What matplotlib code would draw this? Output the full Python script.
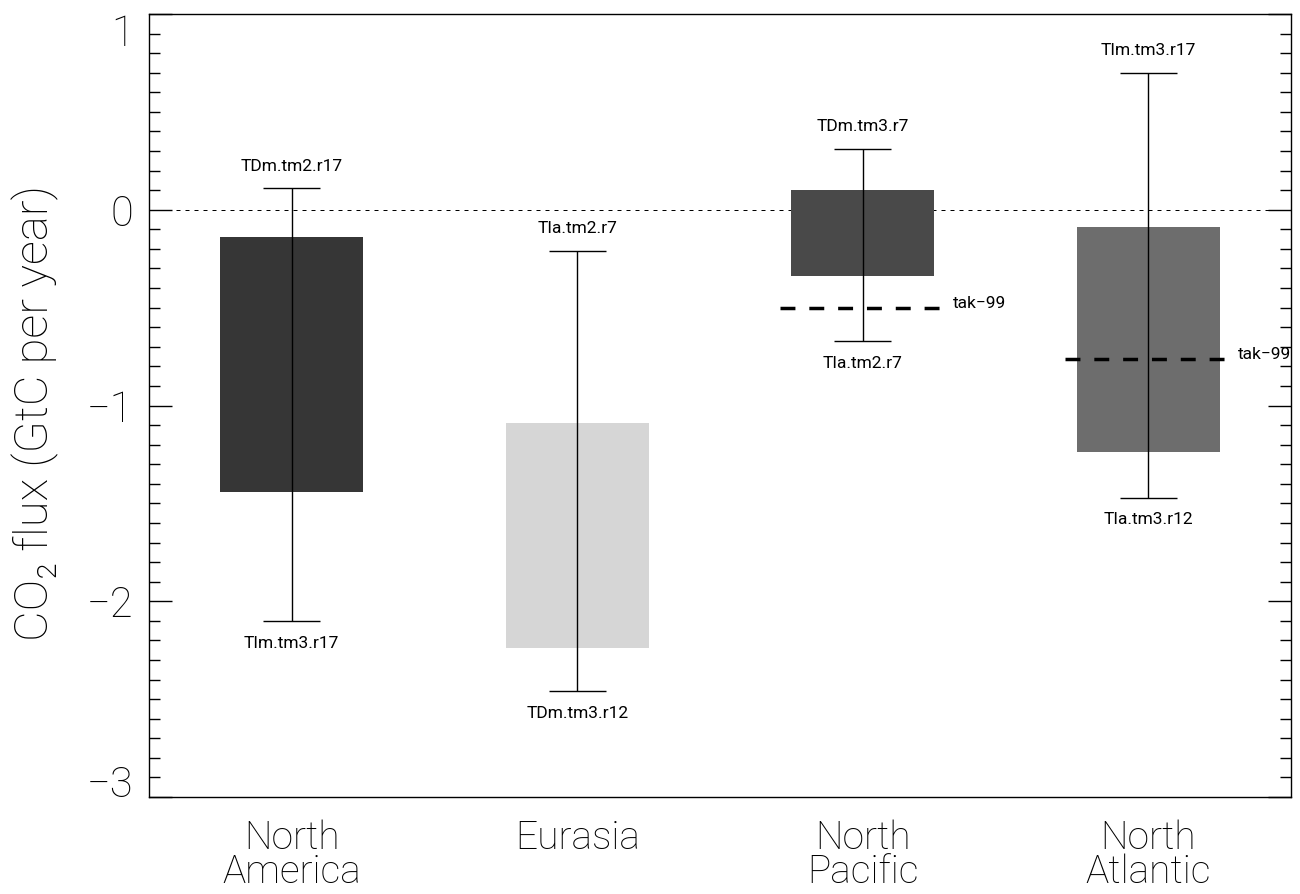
import matplotlib.pyplot as plt
import numpy as np
from matplotlib.ticker import MultipleLocator

# === data ===
regions = ['North\nAmerica', 'Eurasia', 'North\nPacific', 'North\nAtlantic']
bar_top = [-0.14, -1.09, 0.10, -0.09]
bar_bottom = [-1.44, -2.24, -0.34, -1.24]
err_top = [0.11, -0.21, 0.31, 0.70]
err_bottom = [-2.10, -2.46, -0.67, -1.47]
top_names = ['TDm.tm2.r17', 'TIa.tm2.r7', 'TDm.tm3.r7', 'TIm.tm3.r17']
bottom_names = ['TIm.tm3.r17', 'TDm.tm3.r12', 'TIa.tm2.r7', 'TIa.tm3.r12']
bar_colors = ['#363636', '#d6d6d6', '#494949', '#6d6d6d']
tak_regions = [2, 3]
tak_values = [-0.50, -0.76]
yticks = [-3, -2, -1, 0, 1]

plt.rcParams['font.family'] = ['Roboto', 'DejaVu Sans']

fig = plt.figure(figsize=(13, 8.94), dpi=100)
ax = fig.add_axes([0.1146, 0.1085, 0.8785, 0.8758])

x = np.arange(len(regions))
bottoms = np.array(bar_bottom)
heights = np.array(bar_top) - bottoms
ax.bar(x, heights, bottom=bottoms, width=0.5, color=bar_colors, zorder=1)

# zero line
ax.axhline(0, color='black', lw=0.72, dashes=(4, 5), zorder=0)

# min/max range bars
ax.vlines(x, err_bottom, err_top, color='black', lw=1, zorder=3)
ax.hlines(err_top, x - 0.1, x + 0.1, color='black', lw=1, zorder=3)
ax.hlines(err_bottom, x - 0.1, x + 0.1, color='black', lw=1, zorder=3)

small = dict(fontsize=12.5, color='black')
for i in range(len(regions)):
    ax.annotate(top_names[i], (x[i], err_top[i]), xytext=(0, 16), textcoords='offset points',
                ha='center', va='center', **small)
    ax.annotate(bottom_names[i], (x[i], err_bottom[i]), xytext=(0, -16), textcoords='offset points',
                ha='center', va='center', **small)

# tak-99 estimates
for r, v in zip(tak_regions, tak_values):
    ax.plot([r - 0.29, r + 0.29], [v, v], color='black', lw=2.5, dashes=(4.3, 4), solid_capstyle='butt',
            dash_capstyle='butt', zorder=4)
    ax.annotate('tak\u221299', (r + 0.29, v), xytext=(5, 3), textcoords='offset points',
                ha='left', va='center', annotation_clip=False, **small)

ax.set_xlim(-0.5, 3.5)
ax.set_ylim(-3, 1)
ax.set_xticks(x)
ax.set_xticklabels(regions, fontsize=28, linespacing=0.9, fontweight='light')
ax.tick_params(axis='x', length=0, pad=16)

ax.set_yticks(yticks)
ax.set_yticklabels([f'{t:d}'.replace('-', '\u2212') for t in yticks], fontsize=30, fontweight='light')
ax.yaxis.set_minor_locator(MultipleLocator(0.1))
ax.tick_params(axis='y', which='both', direction='in', left=True, right=True, pad=11)
ax.tick_params(axis='y', which='major', length=16.5, width=1)
ax.tick_params(axis='y', which='minor', length=8, width=1)
ylabs = ax.get_yticklabels()
ylabs[0].set_va('baseline')
ylabs[-1].set_va('top')

for s in ax.spines.values():
    s.set_linewidth(1)

ax.set_ylabel('CO\u2082 flux (GtC per year)', fontsize=34, fontweight='light')
ax.yaxis.label.set_va('center')
ax.yaxis.set_label_coords(-0.1, 0.49)

fig.savefig('out.png', dpi=100)
